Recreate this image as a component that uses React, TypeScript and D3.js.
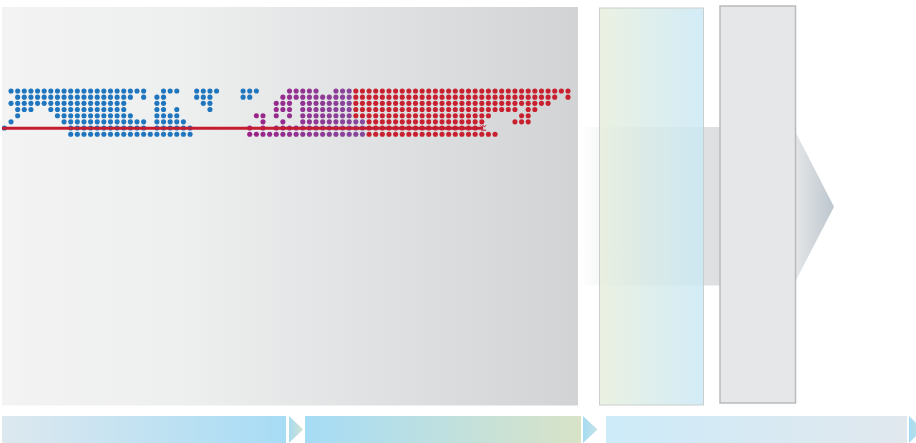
import React from "react";
import * as d3 from "d3";

// Dot-matrix runs: [row, fromCol, toCol]
const blueRuns: [number, number, number][] = [
  [0, 1, 21], [0, 24, 26], [0, 29, 32], [0, 36, 38],
  [1, 2, 19], [1, 21, 21], [1, 23, 24], [1, 29, 31], [1, 36, 37],
  [2, 1, 18], [2, 23, 24], [2, 30, 31],
  [3, 2, 4], [3, 7, 18], [3, 23, 24], [3, 26, 26], [3, 31, 31],
  [4, 2, 2], [4, 8, 19], [4, 23, 26],
  [5, 1, 1], [5, 9, 21], [5, 23, 27],
  [6, 0, 0], [6, 10, 21], [6, 23, 28],
  [7, 10, 28],
];
const purpleRuns: [number, number, number][] = [
  [0, 43, 47], [0, 50, 52],
  [1, 42, 52],
  [2, 41, 43], [2, 45, 52],
  [3, 41, 43], [3, 45, 52],
  [4, 38, 39], [4, 41, 41], [4, 43, 43], [4, 45, 52],
  [5, 39, 39], [5, 42, 42], [5, 45, 54],
  [6, 37, 37], [6, 39, 39], [6, 41, 54],
  [7, 37, 54],
];
const redRuns: [number, number, number][] = [
  [0, 53, 85],
  [1, 53, 83], [1, 85, 85],
  [2, 53, 82],
  [3, 53, 77], [3, 79, 80],
  [4, 53, 73], [4, 78, 79],
  [5, 55, 72], [5, 77, 79],
  [6, 55, 71],
  [7, 55, 74],
];
const lineCols: [number, number] = [-0.35, 72.2];
const lineRow = 6;

const W = 916;
const H = 443;

const xCol = d3.scaleLinear().domain([0, 85]).range([4.4, 568.0]);
const yRow = d3.scaleLinear().domain([0, 7]).range([91, 134.2]);
const purpleColor = d3.scaleLinear<string>().domain([37, 54]).range(["#9b2189", "#86489c"]).interpolate(d3.interpolateRgb);

function expand(runs: [number, number, number][]) {
  const out: { r: number; c: number }[] = [];
  runs.forEach(([r, a, b]) => {
    d3.range(a, b + 1).forEach((c) => out.push({ r, c }));
  });
  return out;
}

export default function App() {
  const blue = expand(blueRuns);
  const purple = expand(purpleRuns);
  const red = expand(redRuns);
  const ly = yRow(lineRow) + 0.2;
  const lx2 = xCol(lineCols[1]);
  return (
    <svg width={W} height={H} style={{ position: "absolute", left: 0, top: 0 }}>
      <defs>
        <linearGradient id="panel" x1="0" x2="1" y1="0" y2="0">
          <stop offset="0" stopColor="#f2f3f2" />
          <stop offset="0.3" stopColor="#eeefef" />
          <stop offset="1" stopColor="#d2d3d5" />
        </linearGradient>
        <linearGradient id="band" x1="0" x2="1" y1="0" y2="0">
          <stop offset="0" stopColor="#e2e3e5" stopOpacity="0" />
          <stop offset="0.4" stopColor="#e0e1e3" stopOpacity="0.8" />
          <stop offset="1" stopColor="#dedfe1" stopOpacity="1" />
        </linearGradient>
        <linearGradient id="arrow" x1="0" x2="1" y1="0" y2="0">
          <stop offset="0" stopColor="#e4e6e8" />
          <stop offset="1" stopColor="#bdc6ce" />
        </linearGradient>
        <linearGradient id="box2" x1="0" x2="1" y1="0" y2="0">
          <stop offset="0" stopColor="#e6eedb" />
          <stop offset="1" stopColor="#c9e8f6" />
        </linearGradient>
        <linearGradient id="bar1" x1="0" x2="1" y1="0" y2="0">
          <stop offset="0" stopColor="#dde8ef" />
          <stop offset="1" stopColor="#a7dcf5" />
        </linearGradient>
        <linearGradient id="bar2" x1="0" x2="1" y1="0" y2="0">
          <stop offset="0" stopColor="#a5dcf5" />
          <stop offset="0.5" stopColor="#bfe0e0" />
          <stop offset="1" stopColor="#d8e3c6" />
        </linearGradient>
        <linearGradient id="bar3" x1="0" x2="1" y1="0" y2="0">
          <stop offset="0" stopColor="#cdebf9" />
          <stop offset="1" stopColor="#e1e8ee" />
        </linearGradient>
        <linearGradient id="chev1" x1="0" x2="1" y1="0" y2="0">
          <stop offset="0" stopColor="#a9dbf0" />
          <stop offset="1" stopColor="#cfe3d2" />
        </linearGradient>
        <linearGradient id="chev2" x1="0" x2="1" y1="0" y2="0">
          <stop offset="0" stopColor="#a6dbf2" />
          <stop offset="1" stopColor="#c4e3e6" />
        </linearGradient>
      </defs>

      {/* main panel */}
      <rect x={2} y={7} width={576} height={398.5} fill="url(#panel)" />

      {/* band and arrow */}
      <rect x={580} y={127} width={140} height={158.5} fill="url(#band)" />
      <polygon points="795,131 834,206.7 795,282" fill="url(#arrow)" />

      {/* box 2 */}
      <rect x={599.5} y={8} width={104} height={397} fill="url(#box2)" fillOpacity={0.82} stroke="#c9cfcc" strokeWidth={1} />
      {/* box 3 */}
      <rect x={720} y={6} width={75.5} height={397} fill="#e6e7e8" stroke="#b8babc" strokeWidth={1.5} />

      {/* dots */}
      <g>
        {blue.map((d, i) => (
          <circle key={"b" + i} cx={xCol(d.c)} cy={yRow(d.r)} r={2.55} fill="#1f75be" />
        ))}
        {purple.map((d, i) => (
          <circle key={"p" + i} cx={xCol(d.c)} cy={yRow(d.r)} r={2.55} fill={purpleColor(d.c)} />
        ))}
        {red.map((d, i) => (
          <circle key={"r" + i} cx={xCol(d.c)} cy={yRow(d.r)} r={2.55} fill="#c8202f" />
        ))}
      </g>
      <line x1={2} x2={lx2} y1={ly} y2={ly} stroke="#c41d30" strokeWidth={3} />
      <path d={`M${lx2 - 3},${ly - 3} q2,3 3,0 q1,3 3,0 M${lx2 - 2},${ly + 2} l5,0`} stroke="#c41d30" strokeWidth={1} fill="none" />

      {/* bottom bars */}
      <rect x={2} y={416} width={284} height={27} fill="url(#bar1)" />
      <polygon points="289,416 303,429.5 289,443" fill="url(#chev1)" />
      <rect x={305} y={416} width={276} height={27} fill="url(#bar2)" />
      <polygon points="583,416 597.5,429.5 583,443" fill="url(#chev2)" />
      <rect x={606} y={416} width={301} height={27} fill="url(#bar3)" />
      <polygon points="909,416 923,429.5 909,443" fill="url(#chev2)" />
    </svg>
  );
}
